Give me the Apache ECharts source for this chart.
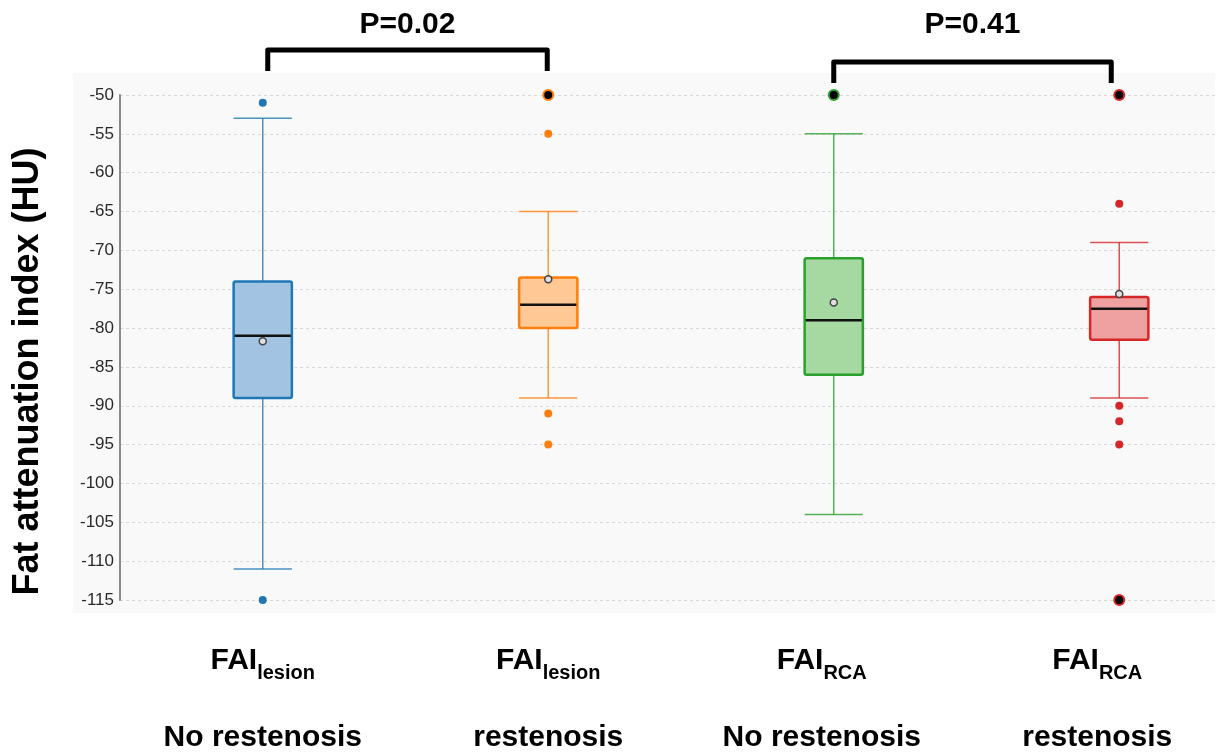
<!DOCTYPE html>
<html><head><meta charset="utf-8">
<script src="https://cdn.jsdelivr.net/npm/echarts@6/dist/echarts.min.js"></script>
<style>html,body{margin:0;padding:0;background:#fff}#c{width:1227px;height:752px}</style>
</head><body><div id="c"></div>
<script>
// ---- data ----
const categories = ['FAI lesion – No restenosis', 'FAI lesion – restenosis', 'FAI RCA – No restenosis', 'FAI RCA – restenosis'];
const subscripts = ['lesion', 'lesion', 'RCA', 'RCA'];
const statusLabels = ['No restenosis', 'restenosis', 'No restenosis', 'restenosis'];
const yMin = -115, yMax = -50, yStep = 5;
const whiskerLow  = [-111, -89, -104, -89];
const q1          = [-89, -80, -86, -81.5];
const medians     = [-81, -77, -79, -77.5];
const q3          = [-74, -73.5, -71, -76];
const whiskerHigh = [-53, -65, -55, -69];
const means       = [-81.7, -73.7, -76.7, -75.6];
const outliers        = [[-51, -115], [-55, -91, -95], [], [-64, -90, -92, -95]];
const extremeOutliers = [[], [-50], [-50], [-50, -115]];
const comparisons = [[0, 1, 'P=0.02'], [2, 3, 'P=0.41']];
const strokeColors = ['#1f77b4', '#ff7f0e', '#2ca02c', '#d62728'];
const fillColors   = ['#a2c4e2', '#ffc894', '#a6d8a1', '#efa0a0'];

const FONT = '"Liberation Sans", Arial, sans-serif';
const chart = echarts.init(document.getElementById('c'), null, {renderer: 'canvas'});

function renderItem(params, api) {
  const i = api.value(0);
  const cx = api.coord([i, api.value(3)])[0];
  const yLow = api.coord([i, api.value(1)])[1];
  const yQ1 = api.coord([i, api.value(2)])[1];
  const yMed = api.coord([i, api.value(3)])[1];
  const yQ3 = api.coord([i, api.value(4)])[1];
  const yHigh = api.coord([i, api.value(5)])[1];
  const yMean = api.coord([i, api.value(6)])[1];
  const bw = api.size([1, 0])[0] * 0.204;
  const col = strokeColors[i];
  const thin = {stroke: col, lineWidth: 1.5, opacity: 0.8};
  return {
    type: 'group',
    children: [
      {type: 'line', shape: {x1: cx, y1: yHigh, x2: cx, y2: yQ3}, style: thin},
      {type: 'line', shape: {x1: cx, y1: yQ1, x2: cx, y2: yLow}, style: thin},
      {type: 'line', shape: {x1: cx - bw / 2, y1: yHigh, x2: cx + bw / 2, y2: yHigh}, style: thin},
      {type: 'line', shape: {x1: cx - bw / 2, y1: yLow, x2: cx + bw / 2, y2: yLow}, style: thin},
      {type: 'rect', shape: {x: cx - bw / 2, y: yQ3, width: bw, height: yQ1 - yQ3, r: 2},
        style: {fill: fillColors[i], stroke: col, lineWidth: 2.5}},
      {type: 'line', shape: {x1: cx - bw / 2 + 1, y1: yMed, x2: cx + bw / 2 - 1, y2: yMed},
        style: {stroke: '#111', lineWidth: 2.5}},
      {type: 'circle', shape: {cx: cx, cy: yMean, r: 3.5},
        style: {fill: '#e0e0e0', stroke: '#444', lineWidth: 1.5}}
    ]
  };
}

const boxData = categories.map((c, i) => [i, whiskerLow[i], q1[i], medians[i], q3[i], whiskerHigh[i], means[i]]);
const outlierData = [];
outliers.forEach((arr, i) => arr.forEach(v => outlierData.push({value: [i, v], itemStyle: {color: strokeColors[i], opacity: 1}})));
const extremeData = [];
extremeOutliers.forEach((arr, i) => arr.forEach(v => extremeData.push({value: [i, v], itemStyle: {color: '#000', borderColor: strokeColors[i], borderWidth: 2, opacity: 1}})));

// trailing spacer (px) that nudges the pasted-in category captions left, as in the figure
const capShift = ['', '', '{g12|}', '{g22|}'];
const spacerRich = {g12: {width: 24, height: 1}, g22: {width: 44, height: 1}};

const option = {
  animation: false,
  backgroundColor: '#fff',
  grid: {left: 120, right: -35, top: 95, bottom: 152, outerBoundsMode: 'none', containLabel: false},
  xAxis: [
    {
      type: 'category', data: categories, gridIndex: 0,
      axisLine: {show: false}, axisTick: {show: false}, splitLine: {show: false},
      axisLabel: {
        interval: 0, margin: 46,
        formatter: (v, idx) => '{f|FAI}{s|' + subscripts[idx] + '}' + capShift[idx],
        rich: Object.assign({
          f: {fontFamily: FONT, fontSize: 30, fontWeight: 'bold', color: '#000', lineHeight: 30, verticalAlign: 'top'},
          s: {fontFamily: FONT, fontSize: 20, fontWeight: 'bold', color: '#000', lineHeight: 20, verticalAlign: 'top', padding: [17, 0, 0, 0]}
        }, spacerRich)
      }
    },
    {
      type: 'category', data: categories, gridIndex: 0, position: 'bottom',
      axisLine: {show: false}, axisTick: {show: false}, splitLine: {show: false},
      axisLabel: {
        interval: 0, margin: 123,
        formatter: (v, idx) => '{t|' + statusLabels[idx] + '}' + capShift[idx],
        rich: Object.assign({
          t: {fontFamily: FONT, fontSize: 30, fontWeight: 'bold', color: '#000', lineHeight: 30}
        }, spacerRich)
      }
    }
  ],
  yAxis: {
    type: 'value', min: yMin, max: yMax, interval: yStep,
    name: 'Fat attenuation index (HU)', nameLocation: 'middle', nameGap: 74, nameRotate: 90,
    nameMoveOverlap: false,
    nameTextStyle: {fontFamily: FONT, fontSize: 36, fontWeight: 'bold', color: '#000', padding: [0, 48, 0, 0]},
    axisLine: {show: true, lineStyle: {color: '#8a8a8a', width: 2}},
    axisTick: {show: false},
    axisLabel: {fontFamily: FONT, fontSize: 17, color: '#2a2a2a', margin: 6},
    splitLine: {show: true, lineStyle: {color: '#d9d9d9', type: [3, 3], width: 1}}
  },
  series: [
    {type: 'custom', name: 'box', renderItem: renderItem, data: boxData, encode: {x: 0, y: [1, 2, 3, 4, 5, 6]}, z: 3},
    {type: 'scatter', name: 'outliers', data: outlierData, symbolSize: 8, z: 4},
    {type: 'scatter', name: 'extreme', data: extremeData, symbolSize: 10, z: 4}
  ]
};
chart.setOption(option);

// background panel, right margin of the figure, and significance brackets
const graphics = [
  {type: 'rect', z: -10, silent: true, shape: {x: 73, y: 73, width: 1142, height: 540}, style: {fill: '#f9f9f9'}},
  {type: 'rect', z: 1, silent: true, shape: {x: 1215, y: 73, width: 12, height: 540}, style: {fill: '#fff'}}
];
const bracketTops = [50, 62];
comparisons.forEach((cmp, k) => {
  const xa = chart.convertToPixel({xAxisIndex: 0}, cmp[0]) + (k === 0 ? 5 : 0);
  const xb = chart.convertToPixel({xAxisIndex: 0}, cmp[1]) - (k === 0 ? 1 : 8);
  const yt = bracketTops[k];
  graphics.push({type: 'polyline', z: 10, shape: {points: [[xa, yt + 21], [xa, yt], [xb, yt], [xb, yt + 21]]},
    style: {stroke: '#000', lineWidth: 5, fill: null, lineJoin: 'round', lineCap: 'butt'}});
  graphics.push({type: 'text', z: 10, x: (xa + xb) / 2, y: 25,
    style: {text: cmp[2], fontFamily: FONT, fontSize: 30, fontWeight: 'bold', fill: '#000', align: 'center', verticalAlign: 'middle'}});
});
chart.setOption({graphic: graphics});
</script></body></html>
